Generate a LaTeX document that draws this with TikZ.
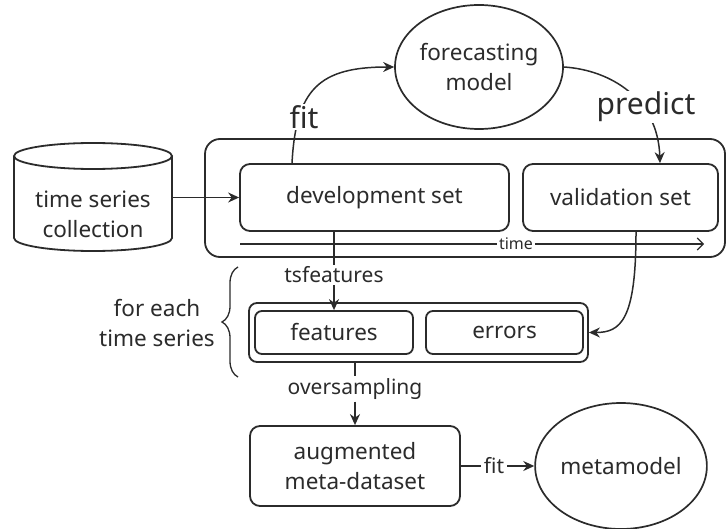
\documentclass[tikz,border=0pt]{standalone}
\usepackage{fontspec}
\setmainfont{Noto Sans}
\usetikzlibrary{arrows.meta,shapes.geometric,decorations.pathreplacing}
\definecolor{ink}{HTML}{2B2B2B}
\newcommand\fmain{\fontsize{22.5}{30}\selectfont}
\newcommand\fsmall{\fontsize{21}{26}\selectfont}
\newcommand\fbig{\fontsize{30}{36}\selectfont}
\newcommand\ftiny{\fontsize{16}{20}\selectfont}
\begin{document}
\begin{tikzpicture}[x=1pt,y=-1pt,
  box/.style={draw=ink, line width=1.8pt, rounded corners=10pt, text=ink, font=\fmain, align=center, inner sep=0pt},
  oval/.style={draw=ink, line width=1.7pt, ellipse, text=ink, font=\fmain, align=center, inner sep=0pt},
  line/.style={draw=ink, line width=1.5pt},
  arr/.style={line, -{Stealth[length=11pt,width=10pt]}},
  lbl/.style={text=ink, inner sep=1pt, fill=white},
  txt/.style={text=ink, inner sep=2pt}]
\useasboundingbox (0,0) rectangle (727,529);
% cylinder
\draw[line, line width=1.8pt] (93,238) ellipse [x radius=79pt, y radius=13pt];
\fill[white] (14,156) rectangle (172,238);
\draw[line, line width=1.8pt] (14,156) -- (14,238) (172,156) -- (172,238);
\draw[line, line width=1.8pt] (93,156) ellipse [x radius=79pt, y radius=13pt];
\node[txt, font=\fmain, align=center, minimum width=158pt, minimum height=60pt, inner sep=0pt] (cyl) at (93,214) {time series\\collection};
% boxes
\node[box, minimum width=520pt, minimum height=118pt, rounded corners=15pt] (outer) at (465,198) {};
\node[box, minimum width=269pt, minimum height=67pt] (dev) at (374.5,197.5) {development set};
\node[box, minimum width=195pt, minimum height=67pt] (val) at (620.5,197.5) {validation set};
\node[oval, minimum width=168pt, minimum height=124pt] (fm) at (479,67) {forecasting\\model};
\node[box, rounded corners=8pt, minimum width=339pt, minimum height=59pt] (grp) at (418.5,332.5) {};
\node[box, rounded corners=7pt, minimum width=158pt, minimum height=43pt] (feat) at (334,332.5) {features};
\node[box, rounded corners=7pt, minimum width=157pt, minimum height=43pt] (err) at (504.5,332.5) {errors};
\node[box, minimum width=210pt, minimum height=80pt] (aug) at (355,466) {augmented\\meta-dataset};
\node[oval, minimum width=168pt, minimum height=126pt] (mm) at (621,466) {metamodel};
\node[txt, font=\fsmall] (ts) at (334,275) {tsfeatures};
\node[txt, font=\fsmall] (os) at (355,389) {oversampling};
\node[txt, font=\fsmall, inner sep=3pt] (fitS) at (494,466) {fit};
\node[txt, font=\fmain, align=center] (fe) at (157,323) {for each\\time series};
% time axis
\coordinate (t0) at (240,244);
\coordinate (t1) at (704,244);
\draw[draw=ink, line width=1.1pt, -{Straight Barb[length=6pt,width=12pt]}] (t0) -- (t1);
\node[lbl, font=\ftiny, inner sep=2pt] (time) at (516,244) {time};
% connectors
\draw[arr] (cyl.east |- dev.west) -- (dev.west);
\draw[arr] ([xshift=-82.5pt]dev.north) .. controls +(4,-74) and +(-75,0) .. (fm.west);
\draw[arr] (fm.east) .. controls +(47,3) and +(-2,-64) .. ([xshift=39.5pt]val.north);
\node[lbl, font=\fbig] (fitB) at (304,117) {fit};
\node[lbl, font=\fbig] (pred) at (646,107) {predict};
\draw[line] ([xshift=-40.5pt]dev.south) -- (ts.north);
\draw[arr] (ts.south) -- (feat.north);
\draw[arr] ([xshift=15.5pt]val.south) .. controls +(0,88) and +(32,0) .. (grp.east);
\draw[line, line width=1.3pt, decorate, decoration={brace, amplitude=16pt}] (238,377) -- (238,267);
\draw[line] (grp.south -| os) -- (os.north);
\draw[arr] (os.south) -- (aug.north);
\draw[line] (aug.east) -- (fitS.west);
\draw[arr] (fitS.east) -- (mm.west);
\end{tikzpicture}
\end{document}
